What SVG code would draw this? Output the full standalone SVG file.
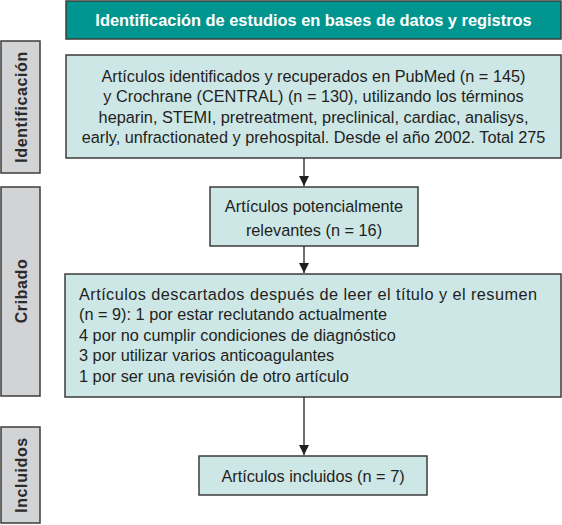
<svg xmlns="http://www.w3.org/2000/svg" width="562" height="525" viewBox="0 0 562 525">
<style>
.box{fill:#cde6e6;stroke:#3c3c3c;stroke-width:1.5}
.side{fill:#d2d3d5;stroke:#3c3c3c;stroke-width:1.5}
.hdr{fill:#00968f;stroke:#3c3c3c;stroke-width:1.5}
.t{font-family:"Liberation Sans",Arial,sans-serif;font-size:16.3px;fill:#231f20}
.c{text-anchor:middle}
.st{font-family:"Liberation Sans",Arial,sans-serif;font-size:16px;font-weight:bold;fill:#2b2b2b;text-anchor:middle;letter-spacing:0.6px}
.ht{font-family:"Liberation Sans",Arial,sans-serif;font-size:16.4px;font-weight:bold;fill:#ffffff;text-anchor:middle}
.conn{stroke:#231f20;stroke-width:1.3;fill:none}
</style>
<defs>
<marker id="ah" viewBox="0 0 10 10" refX="10" refY="5" markerWidth="10" markerHeight="11" markerUnits="userSpaceOnUse" orient="auto">
<path d="M0,0 L10,5 L0,10 z" fill="#231f20"/>
</marker>
</defs>
<g id="header">
<rect class="hdr" x="66" y="1" width="495" height="38"/>
<text class="ht" x="313.5" y="26">Identificación de estudios en bases de datos y registros</text>
</g>
<g id="side-identificacion">
<rect class="side" x="1" y="41" width="39" height="132"/>
<text class="st" transform="translate(27,107) rotate(-90)">Identificación</text>
</g>
<g id="side-cribado">
<rect class="side" x="1" y="187" width="39" height="209"/>
<text class="st" transform="translate(27,291) rotate(-90)">Cribado</text>
</g>
<g id="side-incluidos">
<rect class="side" x="1" y="427" width="39" height="96"/>
<text class="st" transform="translate(27,475) rotate(-90)">Incluidos</text>
</g>
<g id="box-identificados">
<rect class="box" x="66" y="55" width="495" height="103"/>
<text class="t c" x="313.5" y="82">Artículos identificados y recuperados en PubMed (n = 145)</text>
<text class="t c" x="313.5" y="102">y Crochrane (CENTRAL) (n = 130), utilizando los términos</text>
<text class="t c" x="313.5" y="123">heparin, STEMI, pretreatment, preclinical, cardiac, analisys,</text>
<text class="t c" x="313.5" y="143">early, unfractionated y prehospital. Desde el año 2002. Total 275</text>
</g>
<g id="box-relevantes">
<rect class="box" x="210" y="187" width="208" height="59"/>
<text class="t c" x="314" y="212">Artículos potencialmente</text>
<text class="t c" x="314" y="236">relevantes (n = 16)</text>
</g>
<g id="box-descartados">
<rect class="box" x="65" y="274" width="496" height="123"/>
<text class="t" x="79" y="300" textLength="458" lengthAdjust="spacing">Artículos descartados después de leer el título y el resumen</text>
<text class="t" x="79" y="320">(n = 9): 1 por estar reclutando actualmente</text>
<text class="t" x="79" y="341">4 por no cumplir condiciones de diagnóstico</text>
<text class="t" x="79" y="361">3 por utilizar varios anticoagulantes</text>
<text class="t" x="79" y="382">1 por ser una revisión de otro artículo</text>
</g>
<g id="box-incluidos">
<rect class="box" x="199" y="456" width="228" height="39"/>
<text class="t c" x="313" y="482">Artículos incluidos (n = 7)</text>
</g>
<g id="connectors">
<line class="conn" x1="304" y1="158" x2="304" y2="186" marker-end="url(#ah)"/>
<line class="conn" x1="304" y1="246" x2="304" y2="273" marker-end="url(#ah)"/>
<line class="conn" x1="304" y1="397" x2="304" y2="455" marker-end="url(#ah)"/>
</g>
</svg>
